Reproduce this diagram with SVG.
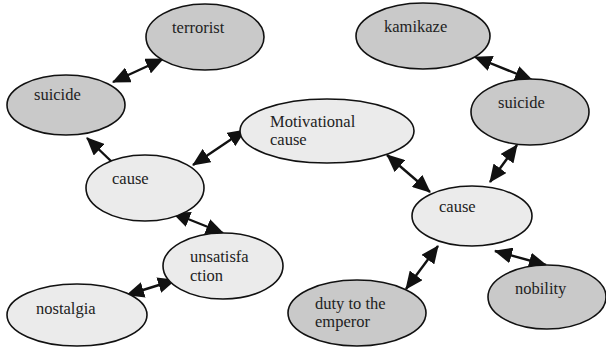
<svg xmlns="http://www.w3.org/2000/svg" width="606" height="348" viewBox="0 0 606 348" font-family="'Liberation Serif', 'DejaVu Serif', 'Times New Roman', serif">
<defs>
<marker id="ah" markerUnits="userSpaceOnUse" markerWidth="18" markerHeight="16" refX="17" refY="8" orient="auto-start-reverse">
<path d="M0,0 L18,8 L0,16 z" fill="#111"/>
</marker>
<style>
.dk{fill:#c9c9c9;stroke:#111;stroke-width:1.6}
.lt{fill:#ebebeb;stroke:#111;stroke-width:1.6}
.t{font-family:'Liberation Serif','DejaVu Serif','Times New Roman',serif;font-size:16.5px;fill:#222}
.c{stroke:#111;stroke-width:2.4;fill:none}
.b{marker-start:url(#ah);marker-end:url(#ah)}
.s{marker-end:url(#ah)}
</style>
</defs>
<rect width="606" height="348" fill="#fff"/>
<g id="connectors">
<line class="c b" x1="113" y1="82" x2="163" y2="59"/>
<line class="c s" x1="113" y1="163" x2="87" y2="138"/>
<line class="c b" x1="193" y1="165" x2="245" y2="130"/>
<line class="c b" x1="173" y1="213" x2="223" y2="233"/>
<line class="c b" x1="127" y1="295" x2="175" y2="280"/>
<line class="c b" x1="475" y1="57" x2="532" y2="80"/>
<line class="c b" x1="387" y1="155" x2="430" y2="192"/>
<line class="c b" x1="517" y1="145" x2="490" y2="182"/>
<line class="c b" x1="438" y1="246" x2="406" y2="289"/>
<line class="c b" x1="495" y1="251" x2="546" y2="265"/>
</g>
<g id="terrorist"><ellipse class="dk" cx="205" cy="37" rx="59" ry="33"/><text class="t" x="172" y="33">terrorist</text></g>
<g id="suicide-left"><ellipse class="dk" cx="66" cy="105" rx="59" ry="30"/><text class="t" x="34" y="100">suicide</text></g>
<g id="motivational"><ellipse class="lt" cx="327" cy="131" rx="87" ry="32"/><text class="t" x="270" y="127">Motivational</text><text class="t" x="270" y="145">cause</text></g>
<g id="kamikaze"><ellipse class="dk" cx="423" cy="36" rx="67" ry="33"/><text class="t" x="384" y="32">kamikaze</text></g>
<g id="suicide-right"><ellipse class="dk" cx="530" cy="112" rx="59" ry="33"/><text class="t" x="498" y="108">suicide</text></g>
<g id="cause-left"><ellipse class="lt" cx="145" cy="188" rx="59" ry="33"/><text class="t" x="112" y="184">cause</text></g>
<g id="unsatisfaction"><ellipse class="lt" cx="223" cy="266" rx="60" ry="33"/><text class="t" x="190" y="262">unsatisfa</text><text class="t" x="190" y="281">ction</text></g>
<g id="nostalgia"><ellipse class="lt" cx="77" cy="315" rx="70" ry="31"/><text class="t" x="36" y="314">nostalgia</text></g>
<g id="cause-right"><ellipse class="lt" cx="472" cy="216" rx="60" ry="30"/><text class="t" x="439" y="212">cause</text></g>
<g id="duty"><ellipse class="dk" cx="357" cy="313" rx="69" ry="33"/><text class="t" x="315" y="309">duty to the</text><text class="t" x="315" y="327">emperor</text></g>
<g id="nobility"><ellipse class="dk" cx="547" cy="297" rx="59" ry="32"/><text class="t" x="515" y="294">nobility</text></g>
</svg>
